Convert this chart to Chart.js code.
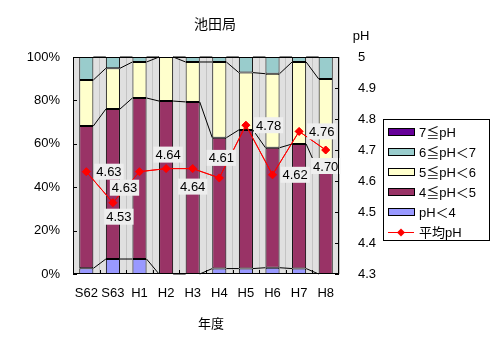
<!DOCTYPE html>
<html>
<head>
<meta charset="utf-8">
<script src="https://cdn.jsdelivr.net/npm/chart.js@4/dist/chart.umd.min.js"></script>
<style>
  body { margin: 0; background: #fff; }
  #wrap { width: 496px; height: 347px; position: relative; }
</style>
</head>
<body>
<div id="wrap"><canvas id="chart"></canvas></div>
<script>
const categories = ["S62", "S63", "H1", "H2", "H3", "H4", "H5", "H6", "H7", "H8"];
const below4 = [2.6, 6.9, 6.9, 0, 0, 2.5, 2.5, 2.9, 2.5, 0];
const from4to5 = [65.6, 69.1, 74.2, 79.7, 79.3, 60.3, 63.9, 55.3, 57.4, 46.9];
const from5to6 = [21.2, 18.8, 16.6, 20.3, 18.4, 34.9, 26.4, 34.1, 37.8, 43.0];
const from6to7 = [10.6, 5.2, 2.3, 0, 2.3, 2.3, 7.2, 7.7, 2.3, 10.1];
const over7 = [0, 0, 0, 0, 0, 0, 0, 0, 0, 0];
const meanPH = [4.63, 4.53, 4.63, 4.64, 4.64, 4.61, 4.78, 4.62, 4.76, 4.70];
const percentTicks = [0, 20, 40, 60, 80, 100];
const phTicks = [4.3, 4.4, 4.5, 4.6, 4.7, 4.8, 4.9, 5];

// where each mean-pH label sits relative to its point
const labelOffsets = [[21, 0], [6, 14], [-15, 16], [2, -14], [0, 18], [2, -20], [20, 0], [21, 0], [20, 0], [0, 16]];

const FONT = '"Liberation Sans", "Noto Sans CJK JP", sans-serif';

function barSet(label, data, color) {
  return {
    type: "bar", label, data, backgroundColor: color,
    borderColor: "#000", borderWidth: 1, borderSkipped: false,
    yAxisID: "y", order: 1, stack: "s"
  };
}

const datasets = [
  barSet("pH＜4", below4, "#9999ff"),
  barSet("4≦pH＜5", from4to5, "#993366"),
  barSet("5≦pH＜6", from5to6, "#ffffcc"),
  barSet("6≦pH＜7", from6to7, "#99cccc"),
  barSet("7≦pH", over7, "#660099"),
  {
    type: "line", label: "平均pH", data: meanPH, yAxisID: "y1", order: 0,
    borderColor: "#ff0000", backgroundColor: "#ff0000", borderWidth: 1,
    pointStyle: "rectRot", pointRadius: 4, tension: 0
  }
];

const decor = {
  id: "decor",
  beforeDraw(chart) {
    const { ctx, chartArea: a } = chart;
    ctx.save();
    ctx.fillStyle = "#e0e0e0";
    ctx.fillRect(a.left, a.top, a.right - a.left, a.bottom - a.top);
    ctx.restore();
  },
  afterDatasetsDraw(chart) {
    const { ctx, chartArea: a } = chart;
    ctx.save();
    // series lines between stacked bars
    ctx.strokeStyle = "#000";
    ctx.lineWidth = 1;
    for (let d = 0; d < 4; d++) {
      const bars = chart.getDatasetMeta(d).data;
      for (let i = 0; i < bars.length - 1; i++) {
        const b1 = bars[i], b2 = bars[i + 1];
        ctx.beginPath();
        ctx.moveTo(b1.x + b1.width / 2, b1.y);
        ctx.lineTo(b2.x - b2.width / 2, b2.y);
        ctx.stroke();
      }
    }
    // redraw mean line over series lines
    const meta = chart.getDatasetMeta(5);
    ctx.strokeStyle = "#ff0000";
    ctx.beginPath();
    meta.data.forEach((p, i) => i ? ctx.lineTo(p.x, p.y) : ctx.moveTo(p.x, p.y));
    ctx.stroke();
    ctx.fillStyle = "#ff0000";
    meta.data.forEach(p => {
      ctx.beginPath();
      ctx.moveTo(p.x, p.y - 4); ctx.lineTo(p.x + 4, p.y);
      ctx.lineTo(p.x, p.y + 4); ctx.lineTo(p.x - 4, p.y);
      ctx.closePath(); ctx.fill();
    });
    // value labels
    ctx.font = "13px " + FONT;
    ctx.textAlign = "center";
    ctx.textBaseline = "middle";
    meta.data.forEach((p, i) => {
      const txt = meanPH[i].toFixed(2);
      const w = ctx.measureText(txt).width + 4;
      const [dx, dy] = labelOffsets[i];
      let cx = p.x + dx, cy = p.y + dy;
      if (dx >= 20) cx = p.x + 8 + w / 2;
      ctx.fillStyle = "#eeeeee";
      ctx.fillRect(cx - w / 2, cy - 8, w, 16);
      ctx.fillStyle = "#000";
      ctx.fillText(txt, cx, cy + 1);
    });
    // plot border and inward ticks
    ctx.strokeStyle = "#000";
    ctx.strokeRect(a.left + 0.5, a.top + 0.5, a.right - a.left - 1, a.bottom - a.top - 1);
    const yS = chart.scales.y, y1S = chart.scales.y1;
    ctx.beginPath();
    percentTicks.forEach(v => {
      const y = Math.round(yS.getPixelForValue(v)) + 0.5;
      ctx.moveTo(a.left, y); ctx.lineTo(a.left + 4, y);
    });
    phTicks.forEach(v => {
      const y = Math.round(y1S.getPixelForValue(v)) + 0.5;
      ctx.moveTo(a.right - 4, y); ctx.lineTo(a.right, y);
    });
    const step = (a.right - a.left) / categories.length;
    for (let i = 1; i < categories.length; i++) {
      const x = Math.round(a.left + step * i) + 0.5;
      ctx.moveTo(x, a.bottom); ctx.lineTo(x, a.bottom - 4);
    }
    ctx.stroke();
    ctx.restore();
  },
  afterDraw(chart) {
    const { ctx } = chart;
    ctx.save();
    ctx.fillStyle = "#000";
    ctx.textAlign = "center";
    ctx.textBaseline = "middle";
    ctx.font = "14px " + FONT;
    ctx.fillText("池田局", 215, 25);
    ctx.font = "13px " + FONT;
    ctx.fillText("年度", 211, 324);
    ctx.fillText("pH", 361, 36);
    // legend
    ctx.strokeStyle = "#000";
    ctx.lineWidth = 1;
    ctx.fillStyle = "#fff";
    ctx.fillRect(383.5, 119.5, 106, 121);
    ctx.strokeRect(383.5, 119.5, 106, 121);
    ctx.textAlign = "left";
    const order = [4, 3, 2, 1, 0, 5];
    order.forEach((d, k) => {
      const ds = chart.data.datasets[d];
      const y = 132 + k * 20;
      if (ds.type === "bar") {
        ctx.fillStyle = ds.backgroundColor;
        ctx.fillRect(388.5, y - 3.5, 26, 7);
        ctx.strokeStyle = "#000";
        ctx.strokeRect(388.5, y - 3.5, 26, 7);
      } else {
        ctx.strokeStyle = "#ff0000";
        ctx.beginPath();
        ctx.moveTo(388, y + 0.5); ctx.lineTo(414, y + 0.5); ctx.stroke();
        ctx.fillStyle = "#ff0000";
        ctx.beginPath();
        ctx.moveTo(401, y - 3.5); ctx.lineTo(405, y + 0.5);
        ctx.lineTo(401, y + 4.5); ctx.lineTo(397, y + 0.5);
        ctx.closePath(); ctx.fill();
      }
      ctx.fillStyle = "#000";
      ctx.fillText(ds.label, 419, y + 1);
    });
    ctx.restore();
  }
};

new Chart(document.getElementById("chart"), {
  data: { labels: categories, datasets },
  options: {
    responsive: true,
    maintainAspectRatio: false,
    animation: false,
    layout: { padding: { top: 57, right: 117, bottom: 0, left: 0 } },
    plugins: { legend: { display: false }, tooltip: { enabled: false } },
    datasets: { bar: { categoryPercentage: 1, barPercentage: 0.53 } },
    scales: {
      x: {
        offset: true,
        grid: { color: "#c4c4c4", drawTicks: false, offset: true },
        border: { display: false },
        ticks: { color: "#000", font: { family: FONT, size: 13 }, padding: 12, maxRotation: 0, autoSkip: false },
        afterFit: s => { s.height = 73; }
      },
      y: {
        stacked: true, min: 0, max: 100,
        grid: { display: false, drawTicks: false },
        border: { display: false },
        afterBuildTicks: s => { s.ticks = percentTicks.map(v => ({ value: v })); },
        ticks: { color: "#000", font: { family: FONT, size: 13 }, padding: 13, callback: v => v + "%" },
        afterFit: s => { s.width = 73; }
      },
      y1: {
        position: "right", min: 4.3, max: 5,
        grid: { display: false, drawTicks: false },
        border: { display: false },
        afterBuildTicks: s => { s.ticks = phTicks.map(v => ({ value: v })); },
        ticks: { color: "#000", font: { family: FONT, size: 13 }, padding: 19, callback: v => String(Math.round(v * 10) / 10) },
        afterFit: s => { s.width = 40; }
      }
    }
  },
  plugins: [decor]
});
</script>
</body>
</html>
